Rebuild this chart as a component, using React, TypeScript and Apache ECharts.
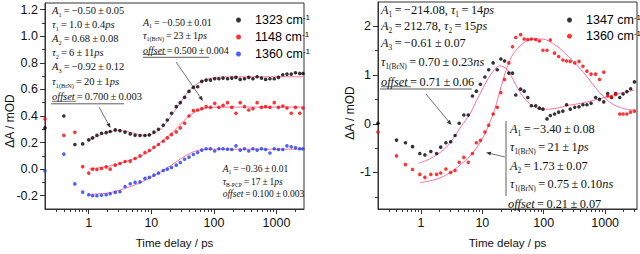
import React, { useEffect, useRef } from 'react';
import * as echarts from 'echarts';

// ---------- data ----------
const leftDelays = [0.2, 0.4, 0.6, 0.8, 1.0, 1.15, 1.35, 1.6, 1.9, 2.2, 2.65, 3.15, 3.8, 4.6, 5.5, 6.6, 7.9, 9.3, 11, 13, 15.5, 18, 21, 25, 29, 34, 40, 47, 55, 64, 75, 88, 103, 120, 140, 165, 193, 225, 263, 308, 360, 420, 490, 575, 670, 785, 920, 1075, 1260, 1470, 1720, 2010, 2350, 2650];
const black1323 = [0.31, 0.40, 0.185, 0.19, 0.22, 0.235, 0.255, 0.27, 0.275, 0.283, 0.295, 0.29, 0.278, 0.265, 0.255, 0.253, 0.253, 0.258, 0.278, 0.30, 0.33, 0.37, 0.42, 0.47, 0.50, 0.54, 0.585, 0.615, 0.62, 0.66, 0.67, 0.67, 0.68, 0.68, 0.685, 0.68, 0.685, 0.69, 0.675, 0.68, 0.69, 0.68, 0.695, 0.685, 0.675, 0.68, 0.68, 0.69, 0.71, 0.715, 0.715, 0.725, 0.72, 0.72];
const red1148 = [0.378, 0.254, 0.277, 0.019, -0.03, 0.0, -0.003, 0.005, 0.017, 0.0, 0.03, 0.042, 0.057, 0.06, 0.08, 0.10, 0.125, 0.14, 0.165, 0.185, 0.21, 0.235, 0.26, 0.28, 0.31, 0.345, 0.40, 0.44, 0.445, 0.455, 0.47, 0.465, 0.495, 0.465, 0.48, 0.50, 0.465, 0.42, 0.50, 0.47, 0.445, 0.455, 0.50, 0.465, 0.47, 0.465, 0.50, 0.465, 0.475, 0.46, 0.42, 0.465, 0.42, 0.46];
const blue1360 = [-0.013, 0.113, -0.111, -0.173, -0.193, -0.2, -0.2, -0.197, -0.193, -0.185, -0.175, -0.17, -0.131, -0.11, -0.1, -0.096, -0.07, -0.062, -0.045, -0.03, -0.01, 0.0, 0.012, 0.03, 0.05, 0.074, 0.09, 0.11, 0.125, 0.143, 0.153, 0.153, 0.136, 0.153, 0.153, 0.15, 0.148, 0.175, 0.143, 0.153, 0.136, 0.153, 0.143, 0.153, 0.148, 0.121, 0.153, 0.148, 0.148, 0.175, 0.168, 0.16, 0.153, 0.153];

const fit1323T = [1, 1.5, 2, 3, 4, 5.5, 7, 9, 11, 14, 18, 23, 30, 40, 55, 75, 110, 200, 500, 2650];
const fit1323V = [0.22, 0.255, 0.278, 0.29, 0.284, 0.268, 0.257, 0.256, 0.268, 0.30, 0.36, 0.43, 0.51, 0.59, 0.645, 0.675, 0.69, 0.695, 0.695, 0.695];
const fit1148T = [1, 2, 3, 5, 7, 10, 14, 20, 28, 40, 55, 75, 120, 2650];
const fit1148V = [0.0, 0.02, 0.04, 0.075, 0.1, 0.145, 0.2, 0.26, 0.33, 0.4, 0.44, 0.46, 0.467, 0.467];
const fitL1360T = [1, 2, 3, 5, 8, 12, 18, 25, 35, 50, 70, 120, 2650];
const fitL1360V = [-0.19, -0.18, -0.16, -0.125, -0.085, -0.04, 0.01, 0.055, 0.1, 0.135, 0.148, 0.15, 0.15];

const rightDelays = [0.2, 0.4, 0.56, 0.73, 0.96, 1.16, 1.45, 1.8, 2.1, 2.55, 3.05, 3.6, 4.2, 5.0, 5.9, 6.9, 8.0, 9.3, 11, 12.7, 15, 17.5, 20, 23, 27, 31, 35, 42, 48, 55, 63, 74, 85, 97, 113, 128, 150, 175, 205, 235, 270, 320, 375, 435, 505, 590, 700, 810, 950, 1100, 1270, 1480, 1730, 1960, 2260, 2600, 3000];
const black1347 = [0.01, -0.335, -0.39, -0.47, -0.61, -0.64, -0.57, -0.61, -0.48, -0.39, -0.37, -0.24, 0.01, 0.18, 0.18, 0.57, 0.67, 0.81, 0.96, 1.11, 1.25, 1.11, 1.33, 1.29, 1.04, 1.04, 0.59, 0.71, 0.67, 0.54, 0.37, 0.37, 0.32, 0.30, 0.10, 0.17, 0.20, 0.24, 0.26, 0.39, 0.30, 0.34, 0.35, 0.39, 0.39, 0.42, 0.54, 0.50, 0.45, 0.62, 0.54, 0.62, 0.54, 0.61, 0.66, 0.72, 0.86];
const red1360 = [-0.17, -0.66, -0.84, -0.94, -1.04, -1.10, -1.04, -1.04, -1.01, -0.93, -1.00, -0.96, -0.79, -0.69, -0.79, -0.61, -0.39, -0.34, -0.17, -0.03, 0.20, 0.34, 0.64, 0.91, 1.25, 1.58, 1.77, 1.83, 1.74, 1.73, 1.74, 1.73, 1.70, 1.51, 1.51, 1.72, 1.45, 1.38, 1.31, 1.29, 1.28, 1.25, 1.28, 1.18, 1.08, 1.02, 1.02, 0.91, 1.06, 0.57, 0.55, 0.60, 0.20, 0.20, 0.20, 0.24, 0.26];

const fit1347T = [0.9, 1.3, 1.8, 2.5, 3.35, 4.5, 6.25, 8, 10.3, 12.5, 15, 19, 22, 26, 32, 40, 50, 60, 75, 90, 125, 180, 235, 400, 600, 1040, 1800, 3000];
const fit1347V = [-0.81, -0.74, -0.64, -0.50, -0.30, -0.06, 0.20, 0.47, 0.74, 0.93, 1.08, 1.19, 1.17, 1.10, 0.90, 0.67, 0.50, 0.40, 0.33, 0.30, 0.30, 0.33, 0.37, 0.42, 0.47, 0.55, 0.63, 0.69];
const fitR1360T = [0.96, 1.3, 1.8, 2.5, 3.35, 4.5, 6.25, 8, 10.3, 12.5, 15, 17, 19.2, 22, 24.7, 30, 36, 44, 52, 64, 76, 90, 111, 140, 182, 230, 300, 400, 495, 640, 815, 1050, 1340, 1700, 2200, 3000];
const fitR1360V = [-1.21, -1.18, -1.14, -1.06, -0.96, -0.83, -0.67, -0.50, -0.28, -0.05, 0.20, 0.42, 0.66, 0.92, 1.12, 1.38, 1.52, 1.63, 1.70, 1.73, 1.74, 1.74, 1.72, 1.65, 1.55, 1.43, 1.28, 1.12, 0.98, 0.80, 0.64, 0.50, 0.40, 0.34, 0.30, 0.28];

const xMajorTicks = [1, 10, 100, 1000];
const xMinorTicks = [0.3, 0.4, 0.5, 0.6, 0.7, 0.8, 0.9, 2, 3, 4, 5, 6, 7, 8, 9, 20, 30, 40, 50, 60, 70, 80, 90, 200, 300, 400, 500, 600, 700, 800, 900, 2000, 3000];
const leftYMajor = [-0.2, 0, 0.2, 0.4, 0.6, 0.8, 1.0, 1.2];
const leftYMinor = [-0.1, 0.1, 0.3, 0.5, 0.7, 0.9, 1.1];
const rightYMajor = [-1, 0, 1, 2];
const rightYMinor = [-1.5, -0.5, 0.5, 1.5];

const leftLegendNames = ['L1323', 'L1148', 'L1360'];
const leftLegendLabels = ['1323 cm', '1148 cm', '1360 cm'];
const rightLegendNames = ['R1347', 'R1360'];
const rightLegendLabels = ['1347 cm', '1360 cm'];

// ---------- styling helpers ----------
const SANS = 'Liberation Sans, Arial, sans-serif';
const SERIF = 'Liberation Serif, Times New Roman, serif';
const PINK = '#ff6f9f';
const AX = '#333';

const pairs = (xs: number[], ys: number[]) => xs.map((x, i) => [x, ys[i]]);

function scatter(name: string, xi: number, yi: number, xs: number[], ys: number[], color: string) {
  return { type: 'scatter', name, xAxisIndex: xi, yAxisIndex: yi, data: pairs(xs, ys), symbolSize: 3.6, itemStyle: { color }, z: 3, silent: true };
}
function fitLine(xi: number, yi: number, xs: number[], ys: number[]) {
  return { type: 'line', xAxisIndex: xi, yAxisIndex: yi, data: pairs(xs, ys), showSymbol: false, symbol: 'none', smooth: 0.3, lineStyle: { color: PINK, width: 1 }, z: 2, silent: true };
}

const fmtPow = (v: number) => {
  const l = Math.log10(v);
  return Math.abs(l - Math.round(l)) < 1e-6 ? String(Math.round(v)) : '';
};

function xMain(grid: number, max: number) {
  return {
    type: 'log', logBase: 10, gridIndex: grid, position: 'bottom', min: 0.2, max,
    axisLine: { show: true, onZero: false, lineStyle: { color: AX, width: 1 } },
    axisTick: { show: true, inside: false, length: 5, customValues: xMajorTicks, lineStyle: { color: AX } },
    axisLabel: { customValues: xMajorTicks, formatter: fmtPow, margin: 7, fontSize: 12.5, color: '#111', fontFamily: SANS },
    splitLine: { show: false }, minorTick: { show: false },
    name: 'Time delay / ps', nameLocation: 'middle', nameGap: 28,
    nameTextStyle: { fontSize: 11.5, color: '#111', fontFamily: SANS },
  };
}
function xMinor(grid: number, max: number) {
  return {
    type: 'log', logBase: 10, gridIndex: grid, position: 'bottom', min: 0.2, max,
    axisLine: { show: false, onZero: false },
    axisTick: { show: true, inside: false, length: 3, customValues: xMinorTicks, lineStyle: { color: AX } },
    axisLabel: { show: false }, splitLine: { show: false },
  };
}
function yMain(grid: number, min: number, max: number, interval: number, major: number[], fmt: (v: number) => string) {
  return {
    type: 'value', gridIndex: grid, position: 'left', min, max, interval,
    axisLine: { show: true, onZero: false, lineStyle: { color: AX, width: 1 } },
    axisTick: { show: true, inside: false, length: 5, customValues: major, lineStyle: { color: AX } },
    axisLabel: { customValues: major, formatter: fmt, margin: 7, fontSize: 12.5, color: '#111', fontFamily: SANS },
    splitLine: { show: false },
  };
}
function yMinor(grid: number, min: number, max: number, interval: number, minor: number[]) {
  return {
    type: 'value', gridIndex: grid, position: 'left', min, max, interval,
    axisLine: { show: false, onZero: false },
    axisTick: { show: true, inside: false, length: 3, customValues: minor, lineStyle: { color: AX } },
    axisLabel: { show: false }, splitLine: { show: false },
  };
}

const leftFmt = (v: number) => {
  const k = Math.round(v * 10);
  return Math.abs(v * 10 - k) < 1e-6 && k % 2 === 0 && v < 1.21 ? (Math.abs(v) < 1e-9 ? '0.0' : v.toFixed(1)) : '';
};
const rightFmt = (v: number) => (Math.abs(v - Math.round(v)) < 1e-9 && v > -1.6 ? String(Math.round(v)) : '');

function rich(fs: number) {
  const base = { fontFamily: SERIF, fontSize: fs, lineHeight: Math.round(fs * 1.3), fill: '#111', color: '#111' };
  return {
    n: { ...base },
    i: { ...base, fontStyle: 'italic' },
    sub: { fontFamily: SERIF, fontSize: fs * 0.6, lineHeight: fs * 0.7, verticalAlign: 'bottom', fill: '#111', color: '#111' },
  };
}
const T = '\u2009';
function mtext(x: number, y: number, s: string, fs: number) {
  return {
    type: 'text', x, y, z: 100, silent: true,
    style: { text: s, rich: rich(fs), fontFamily: SERIF, fontSize: fs, fill: '#111', align: 'left', verticalAlign: 'middle', textAlign: 'left', textVerticalAlign: 'middle' },
  };
}
const eq = (rest: string) => `{n|${T}=${T}${rest}}`;
const pm = (a: string, b: string) => `${a}${T}±${T}${b}`;

function seg(x1: number, y1: number, x2: number, y2: number, w = 0.8) {
  return { type: 'line', z: 100, silent: true, shape: { x1, y1, x2, y2 }, style: { stroke: AX, lineWidth: w } };
}
function arrow(x1: number, y1: number, x2: number, y2: number) {
  const a = Math.atan2(y2 - y1, x2 - x1);
  const L = 5, W = 2;
  const bx = x2 - L * Math.cos(a), by = y2 - L * Math.sin(a);
  const px = -Math.sin(a) * W, py = Math.cos(a) * W;
  return [
    seg(x1, y1, bx, by, 0.7),
    { type: 'polygon', z: 100, silent: true, shape: { points: [[x2, y2], [bx + px, by + py], [bx - px, by - py]] }, style: { fill: AX } },
  ];
}

function legend(names: string[], labels: string[], left: number, top: number, gap: number) {
  const map: Record<string, string> = {};
  names.forEach((n, i) => (map[n] = labels[i]));
  return {
    data: names, orient: 'vertical', left, top, itemWidth: 5, itemHeight: 5, itemGap: gap, icon: 'circle', selectedMode: false,
    formatter: (n: string) => `{g| }{t|${map[n]}}{s|-1}`,
    textStyle: {
      rich: {
        g: { width: 9, fontSize: 12.5, lineHeight: 14 },
        t: { fontSize: 12.5, fontFamily: SANS, color: '#000', lineHeight: 14 },
        s: { fontSize: 8, fontFamily: SANS, color: '#000', lineHeight: 9, verticalAlign: 'top' },
      },
    },
  };
}

export default function App() {
  const ref = useRef<HTMLDivElement>(null);
  useEffect(() => {
    if (!ref.current) return;
    const chart = echarts.init(ref.current, undefined, { renderer: 'svg' });
    const F1 = 10.5, F2 = 10, F3 = 9.5, FR = 12.3;
    const graphics: any[] = [
      // left block 1
      mtext(52, 10, `{i|A}{sub|1}${eq(pm('−0.50', '0.05'))}`, F1),
      mtext(52, 24.3, `{i|τ}{sub|1}${eq(pm('1.0', '0.4'))}{i|ps}`, F1),
      mtext(52, 38.3, `{i|A}{sub|2}${eq(pm('0.68', '0.08'))}`, F1),
      mtext(52, 52.7, `{i|τ}{sub|2}${eq(pm('6', '11'))}{i|ps}`, F1),
      mtext(52, 66.7, `{i|A}{sub|3}${eq(pm('−0.92', '0.12'))}`, F1),
      mtext(52, 81, `{i|τ}{sub|1(BrN)}${eq(pm('20', '1'))}{i|ps}`, F1),
      mtext(52, 96.7, `{i|offset}${eq(pm('0.700', '0.003'))}`, F1),
      seg(52, 101.3, 76, 101.3, 0.7),
      seg(51, 103.8, 124, 103.8, 0.8),
      ...arrow(99, 107, 110.5, 128),
      // left block 2
      mtext(143, 22.7, `{i|A}{sub|1}${eq(pm('−0.50', '0.01'))}`, F2),
      mtext(143, 35.5, `{i|τ}{sub|1(BrN)}${eq(pm('23', '1'))}{i|ps}`, F2),
      mtext(143, 50, `{i|offset}${eq(pm('0.500', '0.004'))}`, F2),
      seg(143, 54.5, 166, 54.5, 0.7),
      seg(143, 57.3, 209, 57.3, 0.8),
      ...arrow(176, 62, 203, 101),
      // left block 3
      mtext(222.7, 169.3, `{i|A}{sub|1}${eq(pm('−0.36', '0.01'))}`, F3),
      mtext(222.7, 181.7, `{i|τ}{sub|B-PCP}${eq(pm('17', '1'))}{i|ps}`, F3),
      mtext(222.7, 194, `{i|offset}${eq(pm('0.100', '0.003'))}`, F3),
      // right block 1
      mtext(381, 10, `{i|A}{sub|1}${eq('−214.08, ')}{i|τ}{sub|1}${eq('14')}{i|ps}`, FR),
      mtext(381, 26, `{i|A}{sub|2}${eq('212.78, ')}{i|τ}{sub|2}${eq('15')}{i|ps}`, FR),
      mtext(381, 43.3, `{i|A}{sub|3}${eq(pm('−0.61', '0.07'))}`, FR),
      mtext(381, 61.7, `{i|τ}{sub|1(BrN)}${eq(pm('0.70', '0.23'))}{i|ns}`, FR),
      mtext(381, 81.7, `{i|offset}${eq(pm('0.71', '0.06'))}`, FR),
      seg(381, 86.7, 411, 86.7, 0.7),
      seg(380, 89, 471.7, 89, 0.8),
      ...arrow(426, 94, 451.5, 125),
      // right block 2
      seg(506, 121, 506, 196, 0.8),
      mtext(510, 129.3, `{i|A}{sub|1}${eq(pm('−3.40', '0.08'))}`, FR),
      mtext(510, 147.3, `{i|τ}{sub|1(BrN)}${eq(pm('21', '1'))}{i|ps}`, FR),
      mtext(510, 166, `{i|A}{sub|2}${eq(pm('1.73', '0.07'))}`, FR),
      mtext(510, 184, `{i|τ}{sub|1(BrN)}${eq(pm('0.75', '0.10'))}{i|ns}`, FR),
      mtext(508, 204.3, `{i|offset}${eq(pm('0.21', '0.07'))}`, FR),
      ...arrow(505, 157, 486, 152.5),
      // y axis names
      { type: 'text', x: 10, y: 121, rotation: Math.PI / 2, z: 100, silent: true,
        style: { text: 'ΔA / mOD', fontFamily: SANS, fontSize: 12, fill: '#111', align: 'center', verticalAlign: 'middle', textAlign: 'center', textVerticalAlign: 'middle' } },
      { type: 'text', x: 350, y: 113, rotation: Math.PI / 2, z: 100, silent: true,
        style: { text: 'ΔA / mOD', fontFamily: SANS, fontSize: 12, fill: '#111', align: 'center', verticalAlign: 'middle', textAlign: 'center', textVerticalAlign: 'middle' } },
    ];

    const option: any = {
      animation: false,
      backgroundColor: '#fff',
      textStyle: { fontFamily: SANS },
      grid: [
        { left: 45, top: 3, width: 259, height: 210, show: true, borderColor: AX, borderWidth: 1, backgroundColor: 'transparent' },
        { left: 378, top: 2, width: 259, height: 211, show: true, borderColor: AX, borderWidth: 1, backgroundColor: 'transparent' },
      ],
      xAxis: [xMain(0, 2750), xMinor(0, 2750), xMain(1, 3300), xMinor(1, 3300)],
      yAxis: [
        yMain(0, -0.3, 1.25, 0.1, leftYMajor, leftFmt),
        yMinor(0, -0.3, 1.25, 0.1, leftYMinor),
        yMain(1, -1.75, 2.5, 0.25, rightYMajor, rightFmt),
        yMinor(1, -1.75, 2.5, 0.25, rightYMinor),
      ],
      legend: [
        legend(leftLegendNames, leftLegendLabels, 231, 8, 3.5),
        legend(rightLegendNames, rightLegendLabels, 562, 8, 2.7),
      ],
      series: [
        fitLine(0, 0, fit1323T, fit1323V),
        fitLine(0, 0, fit1148T, fit1148V),
        fitLine(0, 0, fitL1360T, fitL1360V),
        scatter('L1323', 0, 0, leftDelays, black1323, '#000000'),
        scatter('L1148', 0, 0, leftDelays, red1148, '#ff0000'),
        scatter('L1360', 0, 0, leftDelays, blue1360, '#1a3cff'),
        fitLine(2, 2, fit1347T, fit1347V),
        fitLine(2, 2, fitR1360T, fitR1360V),
        scatter('R1347', 2, 2, rightDelays, black1347, '#000000'),
        scatter('R1360', 2, 2, rightDelays, red1360, '#ff0000'),
      ],
      graphic: graphics,
    };
    chart.setOption(option);
    return () => chart.dispose();
  }, []);
  return <div ref={ref} style={{ position: 'absolute', left: 0, top: 0, width: 640, height: 254, background: '#fff' }} />;
}
